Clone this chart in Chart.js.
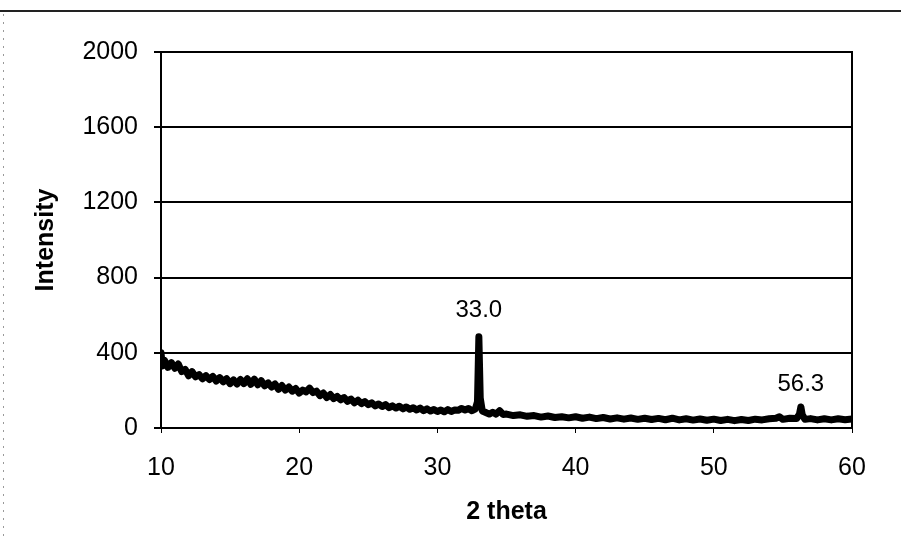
<!DOCTYPE html>
<html>
<head>
<meta charset="utf-8">
<script src="https://cdn.jsdelivr.net/npm/chart.js@4.4.1/dist/chart.umd.min.js"></script>
<style>
  html, body { margin: 0; padding: 0; background: #fff; }
  #wrap { width: 901px; height: 542px; position: relative; }
</style>
</head>
<body>
<div id="wrap"><canvas id="xrdChart" width="901" height="542"></canvas></div>
<script>
// XRD pattern (2 theta vs intensity)
const twoTheta = [
  10, 10.1, 10.25, 10.5, 10.75, 11, 11.25, 11.5, 11.75, 12, 12.25, 12.5, 12.75,
  13, 13.25, 13.5, 13.75, 14, 14.25, 14.5, 14.75, 15, 15.25, 15.5, 15.75,
  16, 16.25, 16.5, 16.75, 17, 17.25, 17.5, 17.75, 18, 18.25, 18.5, 18.75,
  19, 19.25, 19.5, 19.75, 20, 20.25, 20.5, 20.75, 21, 21.25, 21.5, 21.75,
  22, 22.25, 22.5, 22.75, 23, 23.25, 23.5, 23.75, 24, 24.25, 24.5, 24.75,
  25, 25.25, 25.5, 25.75, 26, 26.25, 26.5, 26.75, 27, 27.25, 27.5, 27.75,
  28, 28.25, 28.5, 28.75, 29, 29.25, 29.5, 29.75, 30, 30.25, 30.5, 30.75,
  31, 31.25, 31.5, 31.75, 32, 32.25, 32.5, 32.75, 32.9, 33.0, 33.1, 33.25,
  33.5, 33.75, 34, 34.25, 34.5, 34.75, 35, 35.5, 36, 36.5, 37, 37.5, 38, 38.5,
  39, 39.5, 40, 40.5, 41, 41.5, 42, 42.5, 43, 43.5, 44, 44.5, 45, 45.5, 46,
  46.5, 47, 47.5, 48, 48.5, 49, 49.5, 50, 50.5, 51, 51.5, 52, 52.5, 53, 53.5,
  54, 54.5, 54.75, 55, 55.5, 56, 56.2, 56.3, 56.4, 56.6, 57, 57.5, 58, 58.5,
  59, 59.5, 60
];
const intensity = [
  400, 330, 360, 322, 348, 318, 340, 300, 312, 278, 300, 272, 284,
  262, 278, 258, 274, 250, 268, 246, 262, 236, 256, 234, 258,
  236, 262, 232, 260, 230, 252, 224, 240, 218, 234, 206, 226,
  202, 218, 196, 210, 186, 202, 192, 212, 188, 196, 172, 186,
  162, 178, 156, 168, 150, 162, 142, 154, 134, 148, 130, 140,
  124, 134, 118, 128, 114, 124, 108, 118, 106, 116, 102, 112,
  100, 108, 96, 106, 92, 102, 90, 98, 88, 96, 86, 98,
  88, 96, 94, 104, 96, 104, 92, 102, 140, 485, 160, 90,
  82, 74, 84, 74, 92, 72, 74, 66, 70, 62, 66, 58, 64, 56,
  60, 54, 60, 52, 58, 50, 56, 48, 54, 47, 53, 46, 52, 45, 51,
  44, 52, 43, 49, 42, 48, 41, 47, 40, 46, 39, 45, 40, 47, 43,
  49, 52, 60, 46, 52, 50, 75, 112, 70, 46, 50, 43, 49, 43,
  49, 44, 48
];
const yTicks = [0, 400, 800, 1200, 1600, 2000];
const xTicks = [10, 20, 30, 40, 50, 60];
const peakLabels = ['33.0', '56.3'];
const peakPos = [[33.0, 628], [56.3, 234]];

const points = twoTheta.map((t, i) => ({ x: t, y: intensity[i] }));

// frame, plot box and peak labels
const extras = {
  id: 'extras',
  beforeDraw(chart) {
    const c = chart.ctx;
    c.save();
    c.fillStyle = '#fff';
    c.fillRect(0, 0, chart.width, chart.height);
    c.strokeStyle = '#222';
    c.lineWidth = 2;
    c.beginPath();
    c.moveTo(0, 11);
    c.lineTo(chart.width, 11);
    c.stroke();
    c.lineWidth = 1;
    c.strokeStyle = '#999';
    c.setLineDash([2, 6]);
    c.beginPath();
    c.moveTo(3.5, 14);
    c.lineTo(3.5, chart.height);
    c.stroke();
    c.restore();
  },
  afterDraw(chart) {
    const c = chart.ctx;
    const a = chart.chartArea;
    c.save();
    c.strokeStyle = '#000';
    c.lineWidth = 2;
    c.strokeRect(a.left, a.top, a.right - a.left, a.bottom - a.top);
    c.fillStyle = '#000';
    c.font = '24px "Liberation Sans", Arial, sans-serif';
    c.textAlign = 'center';
    c.textBaseline = 'middle';
    peakLabels.forEach((txt, i) => {
      const px = chart.scales.x.getPixelForValue(peakPos[i][0]);
      const py = chart.scales.y.getPixelForValue(peakPos[i][1]);
      c.fillText(txt, px, py);
    });
    c.restore();
  }
};

const tickFont = { family: '"Liberation Sans", Arial, sans-serif', size: 25 };
const titleFont = { family: '"Liberation Sans", Arial, sans-serif', size: 25, weight: 'bold' };

new Chart(document.getElementById('xrdChart').getContext('2d'), {
  type: 'scatter',
  data: {
    datasets: [{
      data: points,
      showLine: true,
      borderColor: '#000',
      backgroundColor: '#000',
      borderWidth: 7,
      borderJoinStyle: 'round',
      borderCapStyle: 'round',
      pointRadius: 0,
      tension: 0
    }]
  },
  options: {
    responsive: false,
    animation: false,
    layout: { padding: { top: 52, right: 49, left: 0, bottom: 0 } },
    plugins: { legend: { display: false }, tooltip: { enabled: false } },
    scales: {
      x: {
        type: 'linear',
        min: 10, max: 60,
        afterBuildTicks: s => { s.ticks = xTicks.map(v => ({ value: v })); },
        afterFit: s => { s.height = 114; },
        grid: { drawOnChartArea: false, drawTicks: true, tickLength: 5, color: '#000', lineWidth: 1 },
        border: { display: true, color: '#000', width: 2 },
        ticks: { color: '#000', font: tickFont, padding: 20, maxRotation: 0, callback: v => String(v) },
        title: { display: true, text: '2 theta', color: '#000', font: titleFont, padding: { top: 0, bottom: 15 } }
      },
      y: {
        type: 'linear',
        min: 0, max: 2000,
        afterBuildTicks: s => { s.ticks = yTicks.map(v => ({ value: v })); },
        afterFit: s => { s.width = 161; },
        grid: { drawOnChartArea: true, drawTicks: true, tickLength: 7, color: '#000', lineWidth: 2 },
        border: { display: true, color: '#000', width: 2 },
        ticks: { color: '#000', font: tickFont, padding: 16, callback: v => String(v) },
        title: { display: true, text: 'Intensity', color: '#000', font: titleFont, padding: { top: 31, bottom: 0 } }
      }
    }
  },
  plugins: [extras]
});
</script>
</body>
</html>
